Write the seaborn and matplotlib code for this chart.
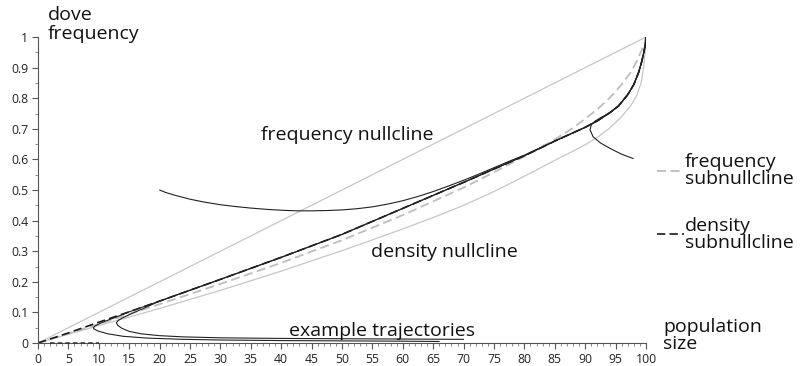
import matplotlib
matplotlib.use("Agg")
import matplotlib.pyplot as plt
import seaborn as sns
from matplotlib.ticker import FixedLocator, MultipleLocator, FixedFormatter

# ---------------- data ----------------
freq_null_x = [0, 100]
freq_null_y = [0, 1.0]

dens_null_x = [0, 10, 20, 30, 40, 50, 55, 60, 65, 70, 75, 80, 85, 88, 90, 92, 94, 96, 97.5, 98.5, 99.2, 99.6, 99.85, 100]
dens_null_y = [0, 0.057, 0.113, 0.172, 0.235, 0.302, 0.337, 0.373, 0.41, 0.45, 0.495, 0.545, 0.597, 0.627, 0.648, 0.672, 0.702, 0.74, 0.776, 0.81, 0.85, 0.9, 0.95, 1.0]

freq_sub_x = [0, 10, 20, 30, 40, 50, 60, 70, 75, 80, 85, 88, 90, 92, 94, 96, 97.5, 98.5, 99.2, 99.7, 100]
freq_sub_y = [0, 0.062, 0.127, 0.193, 0.262, 0.336, 0.418, 0.508, 0.558, 0.61, 0.665, 0.703, 0.733, 0.764, 0.8, 0.845, 0.885, 0.922, 0.953, 0.978, 1.0]

# stable curve onto which all trajectories converge (density subnullcline)
dens_sub_x = [0, 5, 10, 15, 20, 30, 40, 50, 60, 70, 80, 85, 88, 90, 92, 94, 95.5, 97, 98, 98.8, 99.3, 99.7, 99.9, 100]
dens_sub_y = [0, 0.033, 0.068, 0.102, 0.137, 0.208, 0.28, 0.355, 0.44, 0.525, 0.612, 0.66, 0.687, 0.705, 0.726, 0.752, 0.775, 0.812, 0.845, 0.885, 0.92, 0.955, 0.98, 1.0]
dens_sub_low_x = [2, 10]
dens_sub_low_y = [0, 0]

traj1_head_x = [20, 21, 22.5, 25, 27.5, 30, 32.5, 35, 37.5, 40, 42.5, 45, 47.5, 50, 52.5, 55, 57.5, 60, 62.5, 65, 67.5, 70, 72.5, 75, 77.5, 80, 82.5]
traj1_head_y = [0.5, 0.492, 0.483, 0.47, 0.46, 0.452, 0.446, 0.441, 0.437, 0.434, 0.432, 0.432, 0.433, 0.435, 0.439, 0.445, 0.454, 0.465, 0.479, 0.495, 0.513, 0.532, 0.552, 0.573, 0.594, 0.614, 0.637]
traj1_join = 85

traj2_head_x = [97.9, 96, 94.1, 92.5, 91.3, 90.8, 91.0, 91.6, 92.6]
traj2_head_y = [0.603, 0.617, 0.636, 0.654, 0.674, 0.697, 0.713, 0.725, 0.737]
traj2_join = 94

traj3_head_x = [70, 60, 40, 30, 24, 20, 17, 15, 13.8, 13.1, 12.9, 13.2, 14, 15.5, 17]
traj3_head_y = [0.012, 0.013, 0.015, 0.017, 0.02, 0.024, 0.03, 0.038, 0.048, 0.058, 0.066, 0.074, 0.083, 0.097, 0.11]
traj3_join = 20

traj4_head_x = [66, 60, 40, 30, 24, 18, 14, 11.5, 9.9, 9.2, 9.1, 9.4, 10, 11, 12.5]
traj4_head_y = [0.005, 0.006, 0.008, 0.0098, 0.012, 0.016, 0.022, 0.03, 0.039, 0.046, 0.05, 0.056, 0.062, 0.071, 0.082]
traj4_join = 15

x_ticks = [0, 5, 10, 15, 20, 25, 30, 35, 40, 45, 50, 55, 60, 65, 70, 75, 80, 85, 90, 95, 100]
x_tick_labels = [str(v) for v in x_ticks]
y_ticks = [0, 0.1, 0.2, 0.3, 0.4, 0.5, 0.6, 0.7, 0.8, 0.9, 1.0]
y_tick_labels = ["0", "0.1", "0.2", "0.3", "0.4", "0.5", "0.6", "0.7", "0.8", "0.9", "1"]

# ---------------- style ----------------
sns.set_theme(style="ticks")
plt.rcParams["font.family"] = ["Open Sans", "DejaVu Sans"]

LIGHT = "#c6c6c6"
DARK = "#1a1a1a"

fig = plt.figure(figsize=(8.0, 3.66), dpi=100)
ax = fig.add_axes([0.0475, 0.0628, 0.76, 0.836])


def line(x, y, **kw):
    sns.lineplot(x=x, y=y, sort=False, estimator=None, ax=ax, **kw)


def with_tail(hx, hy, join):
    tx = [v for v in dens_sub_x if v >= join]
    ty = [dens_sub_y[i] for i, v in enumerate(dens_sub_x) if v >= join]
    return hx + tx, hy + ty


line(freq_null_x, freq_null_y, color=LIGHT, linewidth=0.9)
line(dens_null_x, dens_null_y, color=LIGHT, linewidth=0.9)
line(freq_sub_x, freq_sub_y, color="#bdbdbd", linewidth=1.3, linestyle=(0, (5, 2.5)),
     label="frequency\nsubnullcline")
line(dens_sub_x, dens_sub_y, color=DARK, linewidth=1.2, linestyle=(0, (5, 2.5)),
     label="density\nsubnullcline")
line(dens_sub_low_x, dens_sub_low_y, color="#333333", linewidth=1.1, linestyle=(0, (3, 2)),
     clip_on=False, zorder=4)
for hx, hy, j in [(traj1_head_x, traj1_head_y, traj1_join),
                  (traj2_head_x, traj2_head_y, traj2_join),
                  (traj3_head_x, traj3_head_y, traj3_join),
                  (traj4_head_x, traj4_head_y, traj4_join)]:
    tx, ty = with_tail(hx, hy, j)
    line(tx, ty, color="#222222", linewidth=0.8)

ax.set_xlim(0, 100)
ax.set_ylim(0, 1)
ax.xaxis.set_major_locator(FixedLocator(x_ticks))
ax.xaxis.set_major_formatter(FixedFormatter(x_tick_labels))
ax.xaxis.set_minor_locator(MultipleLocator(1))
ax.yaxis.set_major_locator(FixedLocator(y_ticks))
ax.yaxis.set_major_formatter(FixedFormatter(y_tick_labels))
ax.yaxis.set_minor_locator(MultipleLocator(0.05))
ax.tick_params(which="major", length=4, width=0.8, color="#555555", labelsize=8.8,
               labelcolor="#222222", pad=3)
ax.tick_params(which="minor", length=2, width=0.6, color="#777777")
for s in ["top", "right"]:
    ax.spines[s].set_visible(False)
for s in ["left", "bottom"]:
    ax.spines[s].set_color("#555555")
    ax.spines[s].set_linewidth(0.8)
ax.set_xlabel("")
ax.set_ylabel("")

FS = 14
ax.text(0.016, 1.10, "dove\nfrequency", transform=ax.transAxes, ha="left", va="top",
        fontsize=FS, color="#111111", linespacing=1.02)
ax.text(1.028, 0.025, "population\nsize", transform=ax.transAxes, ha="left", va="center",
        fontsize=FS, color="#111111", linespacing=0.95)
ax.text(50.9, 0.68, "frequency nullcline", ha="center", va="center", fontsize=FS, color="#111111")
ax.text(66.8, 0.297, "density nullcline", ha="center", va="center", fontsize=FS, color="#111111")
ax.text(56.6, 0.038, "example trajectories", ha="center", va="center", fontsize=FS, color="#111111")

leg = ax.legend(loc="upper left", bbox_to_anchor=(1.005, 0.646), frameon=False, fontsize=FS,
                handlelength=1.4, handletextpad=0.05, labelspacing=1.45, borderaxespad=0.0)
for t in leg.get_texts():
    t.set_linespacing(0.95)
    t.set_color("#111111")

fig.savefig("out.png", dpi=100)
